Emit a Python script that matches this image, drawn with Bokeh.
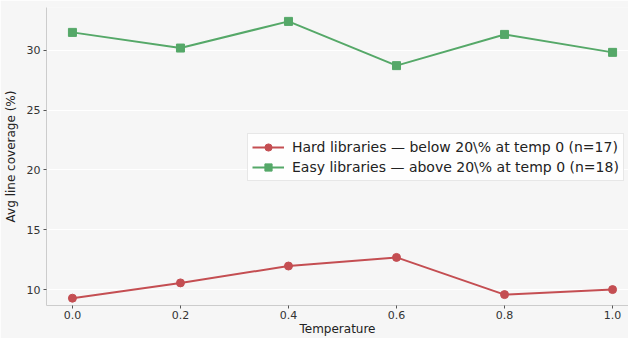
from bokeh.plotting import figure
from bokeh.models import FixedTicker, PrintfTickFormatter, Range1d, Legend, LegendItem
from bokeh.embed import file_html
from bokeh.resources import INLINE

temps = [0.0, 0.2, 0.4, 0.6, 0.8, 1.0]
hard = [9.28, 10.56, 11.97, 12.69, 9.58, 10.0]
easy = [31.5, 30.19, 32.42, 28.72, 31.33, 29.83]
hard_label = "Hard libraries \u2014 below 20\\% at temp 0 (n=17)"
easy_label = "Easy libraries \u2014 above 20\\% at temp 0 (n=18)"
x_ticks = [0.0, 0.2, 0.4, 0.6, 0.8, 1.0]
y_ticks = [10, 15, 20, 25, 30]

RED = "#c44e52"
GREEN = "#55a868"
BG = "#f6f6f6"
FONT = "DejaVu Sans"

p = figure(width=628, height=338, output_backend="svg", toolbar_location=None,
           x_range=Range1d(-0.048, 1.0295), y_range=Range1d(8.67, 33.58),
           min_border_left=44, min_border_right=0, min_border_top=7, min_border_bottom=32,
           background_fill_color=BG, border_fill_color=BG)
p.outline_line_color = None

r1l = p.line(temps, hard, line_color=RED, line_width=2)
r1m = p.scatter(temps, hard, marker="circle", size=8, fill_color=RED, line_color=RED)
r2l = p.line(temps, easy, line_color=GREEN, line_width=2)
r2m = p.scatter(temps, easy, marker="square", size=8, fill_color=GREEN, line_color=GREEN)

legend = Legend(items=[LegendItem(label=hard_label, renderers=[r1l, r1m]),
                       LegendItem(label=easy_label, renderers=[r2l, r2m])],
                location=(201, 124))
legend.label_text_font = FONT
legend.label_text_font_size = "14px"
legend.label_text_color = "#222222"
legend.glyph_width = 32
legend.glyph_height = 18
legend.label_height = 18
legend.spacing = 2
legend.padding = 4
legend.margin = 0
legend.label_standoff = 8
legend.border_line_color = "#d0d0d0"
legend.background_fill_color = "white"
legend.background_fill_alpha = 0.85
p.add_layout(legend)

p.xgrid.grid_line_color = None
p.ygrid.grid_line_color = "white"
p.ygrid.grid_line_width = 1

p.xaxis.ticker = FixedTicker(ticks=x_ticks)
p.xaxis.formatter = PrintfTickFormatter(format="%.1f")
p.yaxis.ticker = FixedTicker(ticks=y_ticks)
p.xaxis.axis_label = "Temperature"
p.yaxis.axis_label = "Avg line coverage (%)"
for ax in (p.xaxis, p.yaxis):
    ax.axis_label_text_font = FONT
    ax.axis_label_text_font_size = "12px"
    ax.axis_label_text_font_style = "normal"
    ax.axis_label_text_color = "#222222"
    ax.major_label_text_font = FONT
    ax.major_label_text_font_size = "11px"
    ax.major_label_text_color = "#333333"
    ax.axis_line_color = "#cccccc"
    ax.major_tick_line_color = "#555555"
    ax.major_tick_out = 3
    ax.major_tick_in = 0
    ax.minor_tick_line_color = None
p.xaxis.major_label_standoff = 2
p.xaxis.axis_label_standoff = 0
p.yaxis.major_label_standoff = 3
p.yaxis.axis_label_standoff = 6

open("out.html", "w").write(file_html(p, INLINE))
